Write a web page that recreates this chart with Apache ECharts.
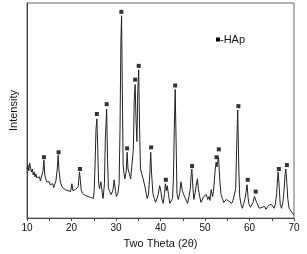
<!DOCTYPE html>
<html>
<head>
<meta charset="utf-8">
<script src="https://cdn.jsdelivr.net/npm/echarts@6/dist/echarts.min.js"></script>
<style>
  html, body { margin: 0; padding: 0; background: #fff; }
  #chart { width: 307px; height: 254px; }
</style>
</head>
<body>
<div id="chart"></div>
<script>
// XRD trace, 2theta (deg) and intensity (arb. units)
const twoTheta = [
  10.0, 10.2, 10.4, 10.6, 10.8, 11.0, 11.2, 11.4, 11.6, 11.8, 12.0, 12.2, 12.4, 12.6, 12.8,
  13.0, 13.2, 13.4, 13.6, 13.8, 14.0, 14.2, 14.4, 14.6, 14.8, 15.0, 15.2, 15.4, 15.6, 15.8,
  16.0, 16.2, 16.5, 16.8, 17.0, 17.2, 17.4, 17.6, 17.8, 18.0, 18.3, 18.6, 18.9, 19.2, 19.5,
  19.8, 20.1, 20.3, 20.6, 20.9, 21.2, 21.5, 21.8, 22.0, 22.2, 22.5, 22.8, 23.1, 23.4, 23.7,
  24.0, 24.3, 24.6, 24.9, 25.1, 25.3, 25.5, 25.7, 25.9, 26.1, 26.3, 26.6, 26.9, 27.1, 27.4,
  27.6, 27.9, 28.1, 28.3, 28.6, 28.9, 29.3, 29.6, 29.9, 30.1, 30.4, 30.7, 30.9, 31.1, 31.25,
  31.4, 31.6, 31.8, 32.0, 32.3, 32.5, 32.7, 33.0, 33.3, 33.6, 33.9, 34.1, 34.3, 34.5, 34.7,
  34.9, 35.1, 35.3, 35.5, 35.8, 36.1, 36.5, 36.8, 37.0, 37.3, 37.6, 37.8, 38.0, 38.3, 38.6,
  38.9, 39.2, 39.5, 39.8, 40.0, 40.3, 40.6, 40.9, 41.1, 41.3, 41.5, 41.8, 42.1, 42.4, 42.7,
  42.9, 43.1, 43.3, 43.5, 43.7, 44.0, 44.3, 44.6, 44.9, 45.2, 45.5, 45.8, 46.1, 46.4, 46.7,
  46.9, 47.05, 47.3, 47.5, 47.8, 48.0, 48.3, 48.5, 48.8, 49.1, 49.4, 49.7, 50.0, 50.3, 50.6,
  50.9, 51.1, 51.4, 51.7, 51.9, 52.1, 52.3, 52.5, 52.7, 52.9, 53.05, 53.3, 53.6, 53.9, 54.2,
  54.5, 54.8, 55.1, 55.4, 55.7, 56.0, 56.3, 56.6, 56.9, 57.1, 57.35, 57.6, 57.8, 58.1, 58.4,
  58.7, 59.0, 59.2, 59.45, 59.7, 59.9, 60.2, 60.5, 60.8, 61.1, 61.3, 61.6, 61.9, 62.2, 62.5,
  62.8, 63.1, 63.4, 63.7, 64.0, 64.3, 64.6, 64.9, 65.2, 65.5, 65.8, 66.1, 66.3, 66.45, 66.7,
  66.9, 67.2, 67.5, 67.8, 68.0, 68.15, 68.4, 68.6, 68.9, 69.2, 69.5, 69.8, 70.0
];
const intensity = [
  50, 54, 48, 56, 51, 47, 50, 44, 47, 42, 45, 41, 43, 39, 42,
  38, 40, 39, 48, 59, 44, 40, 37, 39, 35, 37, 34, 36, 32, 35,
  31, 33, 38, 50, 64, 48, 40, 35, 33, 31, 33, 29, 31, 28, 30,
  27, 35, 28, 26, 29, 27, 32, 47, 38, 28, 25, 27, 23, 25, 22,
  24, 21, 23, 20, 28, 55, 90, 101, 70, 35, 30, 37, 26, 20, 35,
  80, 111, 60, 30, 27, 24, 28, 39, 27, 22, 25, 35, 90, 180, 206,
  140, 55, 45, 40, 48, 67, 50, 45, 40, 42, 70, 120, 136, 100, 78,
  130, 151, 90, 50, 45, 40, 32, 25, 20, 24, 45, 67, 45, 25, 20,
  16, 18, 24, 33, 30, 20, 15, 25, 35, 28, 33, 24, 15, 17, 20,
  40, 90, 131, 80, 25, 19, 25, 37, 28, 24, 21, 19, 15, 22, 30,
  45, 50, 30, 19, 26, 33, 40, 30, 22, 16, 18, 22, 20, 24, 19,
  22, 18, 29, 22, 27, 38, 50, 57, 52, 58, 62, 40, 24, 20, 16,
  15, 19, 20, 17, 19, 15, 18, 20, 30, 70, 110, 50, 22, 14, 10,
  15, 20, 26, 34, 20, 14, 11, 10, 16, 22, 23, 16, 13, 10, 12,
  11, 9, 12, 9, 11, 13, 11, 14, 13, 10, 14, 25, 40, 47, 30,
  14, 10, 16, 30, 45, 50, 35, 20, 10, 9, 6, 4, 3
];

// HAp reflections marked with squares
const hapTheta = [13.8, 17.1, 21.9, 25.7, 27.9, 31.2, 32.5, 34.3, 35.1, 37.9,
  41.2, 43.3, 47.1, 52.6, 53.1, 57.5, 59.6, 61.4, 66.6, 68.4];
const hapMark = [62, 67, 50, 106, 116, 210, 71, 141, 155, 72,
  39, 135, 53, 62, 70, 114, 39, 27, 50, 54];

const xTicks = [10, 20, 30, 40, 50, 60, 70];

const font = 'Liberation Sans, Arial, sans-serif';
const trace = twoTheta.map((t, i) => [t, intensity[i]]);
const marks = hapTheta.map((t, i) => [t, hapMark[i]]);

const chart = echarts.init(document.getElementById('chart'), null, { renderer: 'canvas' });
chart.setOption({
  animation: false,
  backgroundColor: '#fff',
  grid: {
    left: 24, right: 13, top: 3, bottom: 32,
    show: true, borderColor: '#666', borderWidth: 1, backgroundColor: 'transparent'
  },
  legend: {
    left: 206, top: 29,
    data: [{ name: '-HAp', icon: 'none' }],
    itemWidth: 0, itemHeight: 4, itemGap: 0,
    formatter: name => '{sq|}' + name,
    textStyle: {
      fontFamily: font, fontSize: 11, color: '#111',
      rich: { sq: { width: 4, height: 4, backgroundColor: '#000' } }
    }
  },
  xAxis: {
    type: 'value', min: xTicks[0], max: xTicks[xTicks.length - 1], interval: 10,
    name: 'Two Theta (2θ)', nameLocation: 'middle', nameGap: 19,
    nameTextStyle: { fontFamily: font, fontSize: 11, color: '#111' },
    axisLine: { lineStyle: { color: '#444', width: 1 } },
    axisTick: { show: true, inside: false, length: 3, lineStyle: { color: '#444' } },
    minorTick: { show: true, splitNumber: 2, length: 3, lineStyle: { color: '#444' } },
    axisLabel: { fontFamily: font, fontSize: 10, color: '#111', margin: 5 },
    splitLine: { show: false }
  },
  yAxis: {
    type: 'value', min: 0, max: 219,
    name: 'Intensity', nameLocation: 'middle', nameGap: 8,
    nameTextStyle: { fontFamily: font, fontSize: 11, color: '#111' },
    axisLine: { show: true, lineStyle: { color: '#444', width: 1 } },
    axisTick: { show: false },
    axisLabel: { show: false },
    splitLine: { show: false }
  },
  series: [
    {
      type: 'line', data: trace, showSymbol: false, symbol: 'none',
      lineStyle: { color: '#222', width: 1 }, silent: true
    },
    {
      name: '-HAp', type: 'scatter', data: marks,
      symbol: 'rect', symbolSize: 4,
      itemStyle: { color: '#000' }, silent: true
    }
  ]
});
</script>
</body>
</html>
